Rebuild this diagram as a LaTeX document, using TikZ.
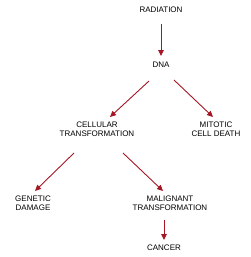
\documentclass[tikz,border=0pt]{standalone}
\usepackage{fontspec}
\setmainfont{Liberation Sans}
\usetikzlibrary{arrows.meta}
\definecolor{arr}{HTML}{A51626}
\tikzset{
  lbl/.style={font=\fontsize{8}{9}\selectfont, align=center, inner sep=0pt, text=black},
  conn/.style={draw=arr, line width=0.9pt, -{Triangle[length=6pt,width=5.5pt]}, color=arr}
}
\begin{document}
\begin{tikzpicture}[x=1pt,y=-1pt]
\useasboundingbox (0,0) rectangle (250,257);
\node[lbl] (rad) at (161,10) {RADIATION};
\node[lbl] (dna) at (161,65) {DNA};
\node[lbl] (ct) at (97,129.5) {CELLULAR\\TRANSFORMATION};
\node[lbl] (mcd) at (216,129.5) {MITOTIC\\CELL DEATH};
\node[lbl] (gd) at (33,203.5) {GENETIC\\DAMAGE};
\node[lbl] (mt) at (170,203.5) {MALIGNANT\\TRANSFORMATION};
\node[lbl] (can) at (164,248) {CANCER};
\draw[conn] ([shift={(0,14)}]rad.center) -- ([shift={(0,-9)}]dna.center);
\draw[conn] ([shift={(-12,16)}]dna.center) -- ([shift={(13,-12.5)}]ct.center);
\draw[conn] ([shift={(13,15)}]dna.center) -- ([shift={(-3,-12.5)}]mcd.center);
\draw[conn] ([shift={(-23,23.5)}]ct.center) -- ([shift={(2,-12.5)}]gd.center);
\draw[conn] ([shift={(26,23.5)}]ct.center) -- ([shift={(-7,-12.5)}]mt.center);
\draw[conn] ([shift={(-6,16.5)}]mt.center) -- ([shift={(0,-8)}]can.center);
\end{tikzpicture}
\end{document}
